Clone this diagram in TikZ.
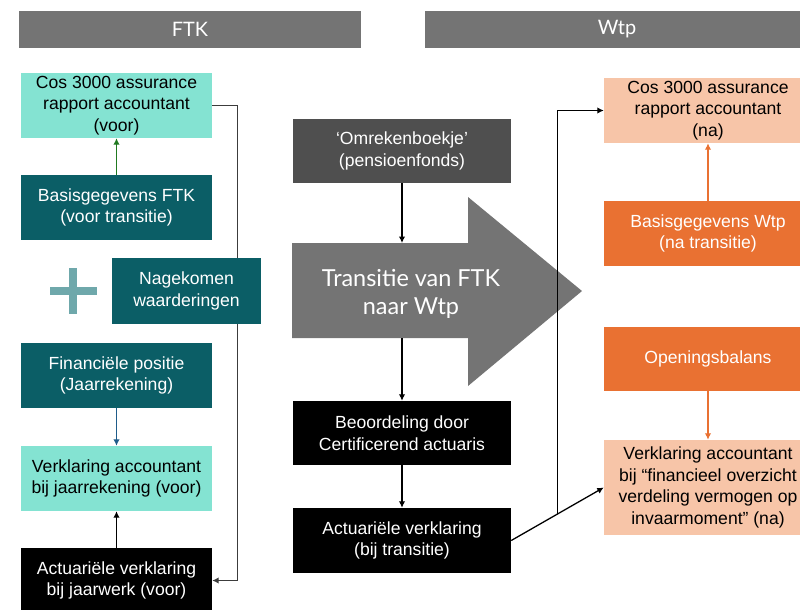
\documentclass[tikz,border=0pt]{standalone}
\usepackage{fontspec}
\setmainfont{Liberation Sans}
\newfontfamily\kopfont{Lato}
\usetikzlibrary{arrows.meta, positioning, calc}
\definecolor{kopgrijs}{HTML}{747474}
\definecolor{aqua}{HTML}{84E3D2}
\definecolor{petrol}{HTML}{0B5E66}
\definecolor{plusteal}{HTML}{6FA8AB}
\definecolor{donkergrijs}{HTML}{4F4F4F}
\definecolor{perzik}{HTML}{F7C5A8}
\definecolor{oranje}{HTML}{E97132}
\definecolor{groen}{HTML}{217A21}
\definecolor{blauw}{HTML}{1F5C8A}
\definecolor{lijngrijs}{HTML}{3C3C3C}

\begin{document}
\begin{tikzpicture}[x=0.03cm, y=-0.03cm,
  blok/.style={rectangle, minimum width=5.73cm, minimum height=1.95cm, align=center, inner sep=1pt, font=\fontsize{15}{18.5}\selectfont},
  kop/.style={rectangle, minimum height=1.11cm, fill=kopgrijs, text=white, font=\kopfont\fontsize{17}{20}\selectfont},
  pijl/.style={-{Latex[length=5.5pt,width=5.5pt]}, line width=1.1pt}]
\clip (0,0) rectangle (800,610);
% kopjes
\node[kop, minimum width=10.26cm] (kopftk) at (190,29.5) {FTK};
\node[kop, minimum width=11.52cm] (kopwtp) at (617,29.5) {Wtp};

% FTK kolom
\node[blok, fill=aqua] (cosvoor) at (116.5,105.5) {Cos 3000 assurance\\rapport accountant\\(voor)};
\node[blok, fill=petrol, text=white] (basisftk) at (116.5,207.5) {Basisgegevens FTK\\(voor transitie)};
\node[blok, fill=petrol, text=white] (finpos) at (116.5,375.5) {Financiële positie\\(Jaarrekening)};
\node[blok, fill=aqua] (verkjaar) at (116.5,478.5) {Verklaring accountant\\bij jaarrekening (voor)};
\node[blok, fill=black, text=white] (actjaar) at (116.5,580.5) {Actuariële verklaring\\bij jaarwerk (voor)};
\draw[pijl, draw=lijngrijs] (cosvoor.east) -- ++(25,0) |- (actjaar.east);
\node[blok, minimum width=4.47cm, minimum height=1.98cm, fill=petrol, text=white] (nagekomen) at (186.5,291) {Nagekomen\\waarderingen};
\draw[plusteal, line width=0.24cm] (50,291) -- (97,291) (73,268) -- (73,314);
\draw[pijl, draw=groen] (basisftk) -- (cosvoor);
\draw[pijl, draw=blauw] (finpos) -- (verkjaar);
\draw[pijl] (actjaar) -- (verkjaar);

% transitie
\node[blok, minimum width=6.54cm, minimum height=1.92cm, fill=donkergrijs, text=white] (omreken) at (402,151) {‘Omrekenboekje’\\(pensioenfonds)};
\fill[kopgrijs] (292,243) -- (468,243) -- (468,197) -- (582,291) -- (468,386) -- (468,338) -- (292,338) -- cycle;
\node[text=white, align=center, font=\kopfont\fontsize{20}{24}\selectfont] (transitie) at (411,294) {Transitie van FTK\\naar Wtp};
\coordinate (pijlboven) at (402,243);
\coordinate (pijlonder) at (402,338);
\node[blok, minimum width=6.54cm, minimum height=1.92cm, fill=black, text=white] (beoordeling) at (402,433) {Beoordeling door\\Certificerend actuaris};
\node[blok, minimum width=6.54cm, minimum height=1.95cm, fill=black, text=white] (actrans) at (402,540.5) {Actuariële verklaring\\(bij transitie)};
\draw[pijl] (omreken) -- (pijlboven);
\draw[pijl] (pijlonder) -- (beoordeling);
\draw[pijl] (beoordeling) -- (actrans);

% Wtp kolom
\node[blok, minimum width=6.24cm, fill=perzik] (coswtp) at (708,110.5) {Cos 3000 assurance\\rapport accountant\\(na)};
\node[blok, minimum width=6.24cm, fill=oranje, text=white] (basiswtp) at (708,233.5) {Basisgegevens Wtp\\(na transitie)};
\node[blok, minimum width=6.24cm, minimum height=1.92cm, fill=oranje, text=white] (opening) at (708,359) {Openingsbalans};
\node[blok, minimum width=6.24cm, minimum height=2.85cm, fill=perzik] (verkwtp) at (708,487.5) {Verklaring accountant\\bij “financieel overzicht\\verdeling vermogen op\\invaarmoment” (na)};
\draw[pijl, draw=oranje] (basiswtp) -- (coswtp);
\draw[pijl, draw=oranje] (opening) -- (verkwtp);
\coordinate (knik) at ($(actrans.east)!0.5!(verkwtp.west)$);
\draw[pijl] (actrans.east) -- (verkwtp.west);
\draw[pijl] (knik) |- (coswtp.west);
\end{tikzpicture}
\end{document}
